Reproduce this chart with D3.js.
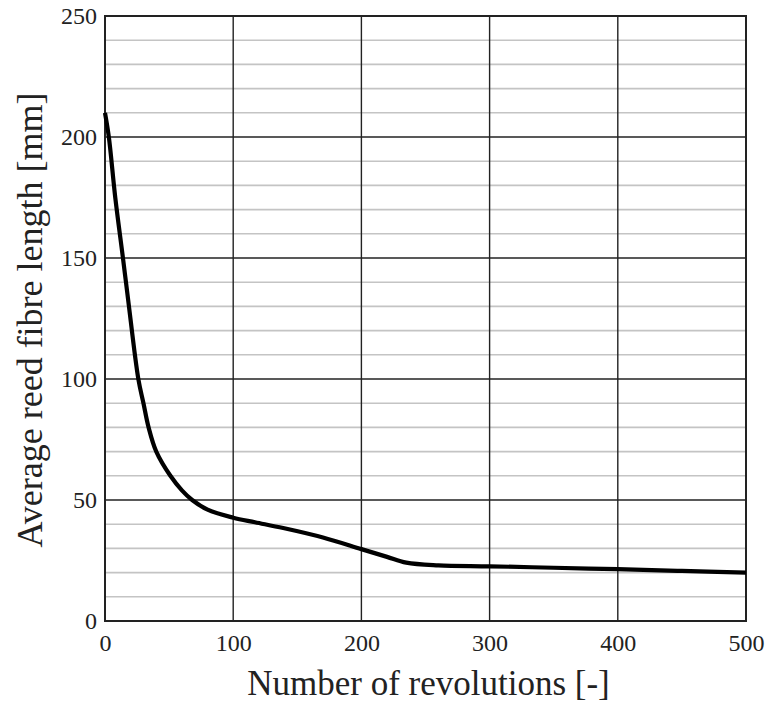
<!DOCTYPE html>
<html>
<head>
<meta charset="utf-8">
<script src="https://cdn.jsdelivr.net/npm/d3@7"></script>
<style>
  body { margin: 0; background: #fff; }
</style>
</head>
<body>
<div id="chart"></div>
<script>
// revolutions vs. average fibre length
const revolutions = [0, 3, 8, 14, 18, 26, 30, 34, 40, 51, 60, 68, 80, 100, 117, 139, 170, 200, 220, 235, 260, 300, 350, 400, 450, 500];
const fibreLength = [210, 200, 175, 150, 133, 100, 90, 80, 70, 60, 54, 50, 46, 42.7, 40.8, 38.4, 34.5, 29.7, 26.5, 24.1, 23, 22.6, 22, 21.4, 20.7, 20];
const xTicks = [0, 100, 200, 300, 400, 500];
const yTicks = [0, 50, 100, 150, 200, 250];
const yMinor = d3.range(10, 250, 10).filter((v) => v % 50 !== 0);

const width = 774, height = 704;
const margin = { top: 16, right: 28, bottom: 83, left: 105 };
const serif = "Liberation Serif";

const data = revolutions.map((r, i) => ({ r, len: fibreLength[i] }));

const x = d3.scaleLinear().domain([0, 500]).range([margin.left, width - margin.right]);
const y = d3.scaleLinear().domain([0, 250]).range([height - margin.bottom, margin.top]);

const svg = d3.select("#chart").append("svg")
  .attr("width", width)
  .attr("height", height);

// minor horizontal grid
svg.append("g")
  .selectAll("line")
  .data(yMinor)
  .join("line")
  .attr("x1", x(0)).attr("x2", x(500))
  .attr("y1", (d) => y(d)).attr("y2", (d) => y(d))
  .attr("stroke", "#c4c4c4")
  .attr("stroke-width", 1.6);

// major grid
svg.append("g")
  .selectAll("line")
  .data(yTicks)
  .join("line")
  .attr("x1", x(0)).attr("x2", x(500))
  .attr("y1", (d) => y(d)).attr("y2", (d) => y(d))
  .attr("stroke", "#222")
  .attr("stroke-width", 1.4);

svg.append("g")
  .selectAll("line")
  .data(xTicks)
  .join("line")
  .attr("x1", (d) => x(d)).attr("x2", (d) => x(d))
  .attr("y1", y(0)).attr("y2", y(250))
  .attr("stroke", "#222")
  .attr("stroke-width", 1.4);

// frame
svg.append("rect")
  .attr("x", x(0)).attr("y", y(250))
  .attr("width", x(500) - x(0))
  .attr("height", y(0) - y(250))
  .attr("fill", "none")
  .attr("stroke", "#222")
  .attr("stroke-width", 2);

// curve
svg.append("path")
  .datum(data)
  .attr("fill", "none")
  .attr("stroke", "#000")
  .attr("stroke-width", 4.2)
  .attr("stroke-linejoin", "round")
  .attr("d", d3.line().x((d) => x(d.r)).y((d) => y(d.len)).curve(d3.curveCatmullRom.alpha(0.5)));

// axes (labels only)
const xAxis = svg.append("g")
  .attr("transform", `translate(0, ${y(0)})`)
  .call(d3.axisBottom(x).tickValues(xTicks).tickSize(0).tickPadding(13));
const yAxis = svg.append("g")
  .attr("transform", `translate(${x(0)}, 0)`)
  .call(d3.axisLeft(y).tickValues(yTicks).tickSize(0).tickPadding(8));

[xAxis, yAxis].forEach((g) => {
  g.attr("font-family", serif).attr("font-size", 24);
  g.select(".domain").remove();
  g.selectAll("text").attr("fill", "#222");
});

svg.append("text")
  .attr("x", (x(0) + x(500)) / 2 + 3)
  .attr("y", 695)
  .attr("text-anchor", "middle")
  .attr("font-family", serif)
  .attr("font-size", 35)
  .attr("fill", "#222")
  .text("Number of revolutions [-]");

svg.append("text")
  .attr("transform", "translate(42, 320) rotate(-90)")
  .attr("text-anchor", "middle")
  .attr("font-family", serif)
  .attr("font-size", 36)
  .attr("fill", "#222")
  .text("Average reed fibre length [mm]");
</script>
</body>
</html>
